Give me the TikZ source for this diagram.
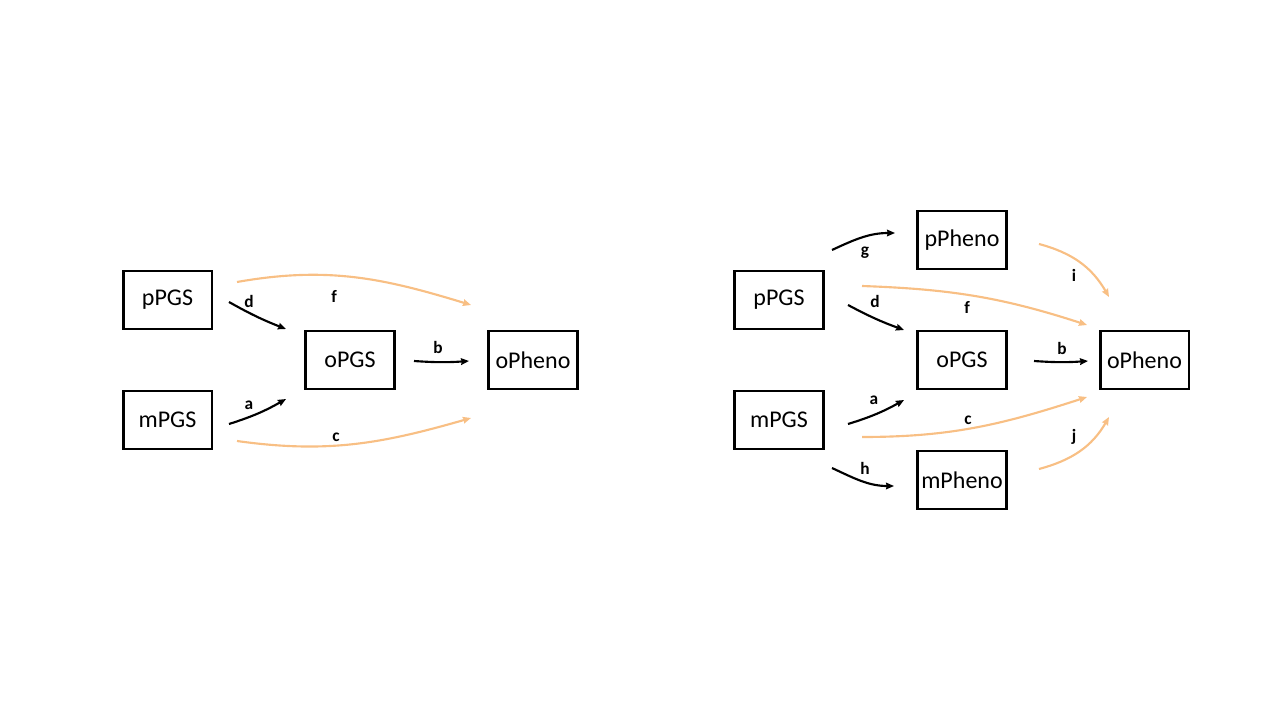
\documentclass[tikz,border=0pt]{standalone}
\usepackage{fontspec}
\setmainfont{Carlito}
\usetikzlibrary{arrows.meta, positioning}
\definecolor{peach}{HTML}{F8BF84}

\begin{document}
\begin{tikzpicture}[x=0.75pt, y=0.75pt,
  box/.style={rectangle, draw=black, line width=2pt, minimum width=66.5pt,
              minimum height=43.3pt, inner sep=0pt, font=\fontsize{18}{20}\selectfont},
  lbl/.style={font=\bfseries\fontsize{13}{15}\selectfont, inner sep=0pt},
  link/.style={line width=1.6pt, -{Stealth[length=6pt, width=5pt, inset=0.6pt]}},
  direct/.style={link, draw=peach}
]
  \useasboundingbox (0,0) rectangle (1280,-720);

  % left model
  \node[box] (lppgs) at (167.5,-300) {pPGS};
  \node[box] (lmpgs) at (167.5,-420) {mPGS};
  \node[box] (lopgs) at (350,-360) {oPGS};
  \node[box] (lopheno) at (533,-360) {oPheno};

  \coordinate (ld0) at (229,-302); \coordinate (ld1) at (286,-329);
  \coordinate (la0) at (229,-424); \coordinate (la1) at (286,-399);
  \coordinate (lb0) at (414,-361); \coordinate (lb1) at (469,-361);
  \coordinate (lf0) at (237,-282); \coordinate (lf1) at (471,-305);
  \coordinate (lc0) at (237,-441); \coordinate (lc1) at (471,-418);

  \draw[link] (ld0) to[bend right=4] (ld1);
  \draw[link] (la0) to[bend right=6] (la1);
  \draw[link] (lb0) to[bend right=4] (lb1);
  \draw[direct] (lf0) to[out=10, in=163] (lf1);
  \draw[direct] (lc0) to[out=-8, in=196] (lc1);

  \node[lbl] (lld) at (249,-301) {d};
  \node[lbl] (lla) at (249,-405) {a};
  \node[lbl] (llb) at (438,-347) {b};
  \node[lbl] (llf) at (334,-296) {f};
  \node[lbl] (llc) at (336,-437) {c};

  % right model
  \node[box] (rppgs) at (779,-300) {pPGS};
  \node[box] (rmpgs) at (779,-420) {mPGS};
  \node[box] (rppheno) at (962,-240) {pPheno};
  \node[box] (ropgs) at (962,-360) {oPGS};
  \node[box] (rmpheno) at (962,-480) {mPheno};
  \node[box] (ropheno) at (1144.5,-360) {oPheno};

  \coordinate (rg0) at (832,-250); \coordinate (rg1) at (895,-233);
  \coordinate (rd0) at (848,-305); \coordinate (rd1) at (904,-330);
  \coordinate (rf0) at (862,-286); \coordinate (rf1) at (1087,-325);
  \coordinate (rb0) at (1034,-361); \coordinate (rb1) at (1088,-361);
  \coordinate (ra0) at (848,-424); \coordinate (ra1) at (904,-400);
  \coordinate (rc0) at (862,-437); \coordinate (rc1) at (1087,-397);
  \coordinate (rh0) at (832,-468); \coordinate (rh1) at (894,-486);
  \coordinate (ri0) at (1039,-244); \coordinate (ri1) at (1109,-297);
  \coordinate (rj0) at (1039,-469); \coordinate (rj1) at (1109,-417);

  \draw[link] (rg0) to[out=25, in=180] (rg1);
  \draw[link] (rd0) to[bend right=4] (rd1);
  \draw[link] (rb0) to[bend right=4] (rb1);
  \draw[link] (ra0) to[bend right=6] (ra1);
  \draw[link] (rh0) to[out=-25, in=180] (rh1);
  \draw[direct] (rf0) to[out=-2, in=162] (rf1);
  \draw[direct] (rc0) to[out=0, in=198] (rc1);
  \draw[direct] (ri0) to[out=-15, in=120] (ri1);
  \draw[direct] (rj0) to[out=15, in=240] (rj1);

  \node[lbl] (rlg) at (865,-253) {g};
  \node[lbl] (rld) at (875,-301) {d};
  \node[lbl] (rlf) at (967,-307) {f};
  \node[lbl] (rlb) at (1062,-348) {b};
  \node[lbl] (rla) at (874,-400) {a};
  \node[lbl] (rlc) at (968,-420) {c};
  \node[lbl] (rlh) at (865,-468) {h};
  \node[lbl] (rli) at (1074,-275) {i};
  \node[lbl] (rlj) at (1074,-437) {j};
\end{tikzpicture}
\end{document}
